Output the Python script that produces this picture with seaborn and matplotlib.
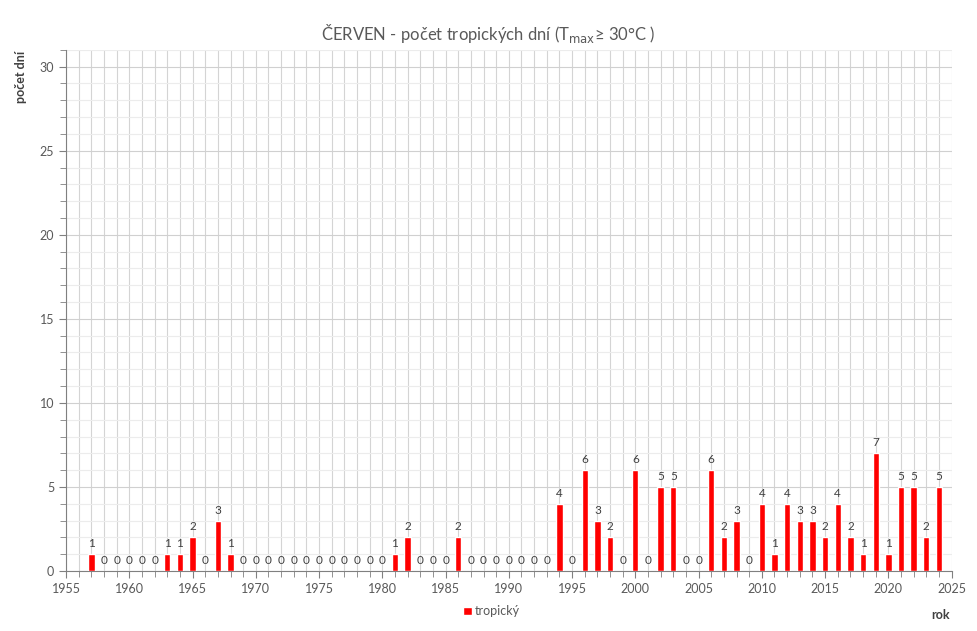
import matplotlib.pyplot as plt
import seaborn as sns
import numpy as np
import pandas as pd
from matplotlib.ticker import MultipleLocator

# June - number of tropical days per year
years = list(range(1957, 2025))
days = [1, 0, 0, 0, 0, 0, 1, 1, 2, 0, 3, 1,          # 1957-1968
        0, 0, 0, 0, 0, 0, 0, 0, 0, 0, 0, 0,          # 1969-1980
        1, 2, 0, 0, 0, 2, 0, 0, 0, 0, 0, 0, 0,       # 1981-1993
        4, 0, 6, 3, 2, 0, 6, 0, 5, 5, 0, 0,          # 1994-2005
        6, 2, 3, 0, 4, 1, 4, 3, 3, 2, 4, 2, 1, 7,    # 2006-2019
        1, 5, 5, 2, 5]                               # 2020-2024

df = pd.DataFrame({"rok": years, "tropický": days})

sns.set_style("white")
plt.rcParams['font.family'] = ['Lato', 'DejaVu Sans']

fig = plt.figure(figsize=(9.77, 6.31), dpi=100)
ax = fig.add_axes([0.0676, 0.095, 0.9064, 0.826])

sns.barplot(data=df, x="rok", y="tropický", native_scale=True, width=0.5,
            color="#ff0000", saturation=1, ax=ax, label="tropický", zorder=3)

# value labels above bars
for x, v in zip(years, days):
    ax.text(x, v + 0.3, str(v), ha="center", va="bottom", fontsize=8.5, color="#404040", zorder=4)

ax.set_xlim(1955, 2025)
ax.set_ylim(0, 31)
ax.xaxis.set_major_locator(MultipleLocator(5))
ax.xaxis.set_minor_locator(MultipleLocator(1))
ax.yaxis.set_major_locator(MultipleLocator(5))
ax.yaxis.set_minor_locator(MultipleLocator(1))
ax.set_yticks([0, 5, 10, 15, 20, 25, 30])

ax.grid(which="major", axis="y", color="#d0d0d0", linewidth=0.8, zorder=0)
ax.grid(which="minor", axis="y", color="#ececec", linewidth=0.8, zorder=0)
ax.grid(which="both", axis="x", color="#d4d4d4", linewidth=0.8, zorder=0)
ax.set_axisbelow(True)

for s in ["top", "right"]:
    ax.spines[s].set_visible(False)
for s in ["left", "bottom"]:
    ax.spines[s].set_color("#808080")
    ax.spines[s].set_linewidth(0.8)

ax.tick_params(which="major", direction="out", length=5, color="#808080",
               labelsize=9, labelcolor="#595959", bottom=True, left=True)
ax.tick_params(which="minor", direction="out", length=4, color="#808080",
               bottom=True, left=True)

ax.set_xlabel("")
ax.set_ylabel("")
fig.text(0.022, 0.92, "počet dní", rotation=90, ha="center", va="top",
         fontsize=9, fontweight="bold", color="#404040")
fig.text(0.963, 0.026, "rok", ha="center", va="center",
         fontsize=9, fontweight="bold", color="#404040")

fig.suptitle("ČERVEN - počet tropických dní (T$_{\\mathrm{max}}$≥ 30°C )",
             x=0.5, y=0.965, fontsize=12, color="#595959")

ax.legend().remove()
fig.legend(handles=ax.patches[:1], labels=["tropický"], loc="center",
           bbox_to_anchor=(0.503, 0.031), frameon=False, fontsize=9,
           handlelength=0.7, handleheight=0.7, handletextpad=0.2,
           labelcolor="#595959")

fig.savefig("out.png", dpi=100)
